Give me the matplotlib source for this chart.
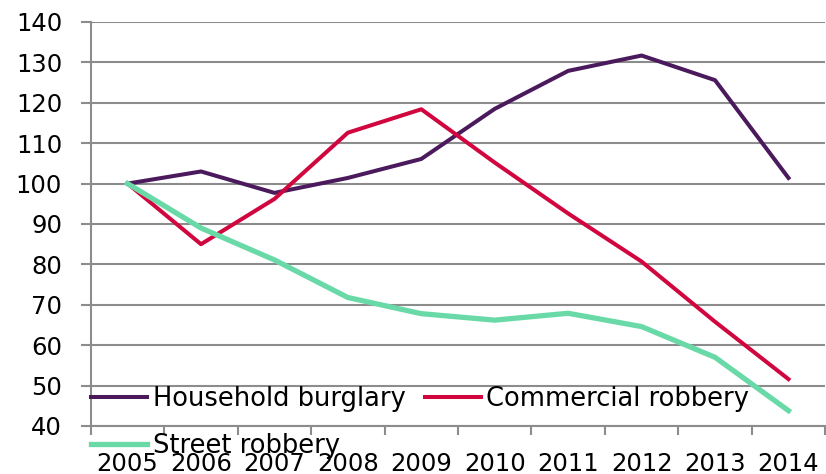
import numpy as np
import matplotlib.pyplot as plt

years = ["2005", "2006", "2007", "2008", "2009", "2010", "2011", "2012", "2013", "2014"]
household_burglary = [100, 103, 97.7, 101.4, 106.1, 118.5, 127.9, 131.7, 125.6, 101.4]
commercial_robbery = [100, 85, 96.2, 112.6, 118.4, 105.2, 92.6, 80.7, 65.8, 51.6]
street_robbery = [100, 89, 81.1, 71.8, 67.8, 66.2, 67.9, 64.6, 57.0, 43.8]


def main():
    plt.rcParams['font.family'] = ['DejaVu Sans']
    fs = 17.5
    grid_col = '#8c8c8c'

    fig = plt.figure(figsize=(8.26, 4.74), dpi=100)
    ax = fig.add_axes([0.110, 0.1013, 0.889, 0.8523])

    x = np.arange(len(years))
    l1, = ax.plot(x, household_burglary, color='#4a1a5c', lw=2.9,
                  solid_joinstyle='round', label='Household burglary', zorder=3)
    l2, = ax.plot(x, commercial_robbery, color='#d1063f', lw=2.9,
                  solid_joinstyle='round', label='Commercial robbery', zorder=3)
    l3, = ax.plot(x, street_robbery, color='#6ad9a8', lw=3.8,
                  solid_joinstyle='round', label='Street robbery', zorder=3)

    ax.set_xlim(-0.5, len(years) - 0.5)
    ax.set_ylim(40, 140)
    ax.set_yticks(np.arange(40, 141, 10))

    # category boundaries get the tick marks, centres get the labels
    ax.set_xticks(np.arange(-0.5, len(years), 1.0))
    ax.set_xticklabels([])
    ax.set_xticks(x, minor=True)
    ax.set_xticklabels(years, minor=True)
    ax.tick_params(axis='x', which='major', length=6.5, width=1.5, color=grid_col)
    ax.tick_params(axis='x', which='minor', length=0, pad=19, labelsize=fs)
    ax.tick_params(axis='y', length=7.2, width=1.5, color=grid_col, pad=13.5, labelsize=fs)

    ax.grid(axis='y', color=grid_col, lw=1.5, zorder=0)
    ax.set_axisbelow(True)
    for s in ['top', 'right']:
        ax.spines[s].set_visible(False)
    for s in ['left', 'bottom']:
        ax.spines[s].set_color(grid_col)
        ax.spines[s].set_linewidth(1.5)

    leg = ax.legend([l1, l3, l2], [l1.get_label(), l3.get_label(), l2.get_label()],
                    ncol=2, loc='upper left', bbox_to_anchor=(0.0, 0.098),
                    frameon=False, fontsize=18.5, borderpad=0, borderaxespad=0,
                    handlelength=2.2, handletextpad=0.2, columnspacing=0.75,
                    labelspacing=0.8)
    leg.set_zorder(5)

    fig.savefig('out.png', dpi=100)


if __name__ == "__main__":
    main()
